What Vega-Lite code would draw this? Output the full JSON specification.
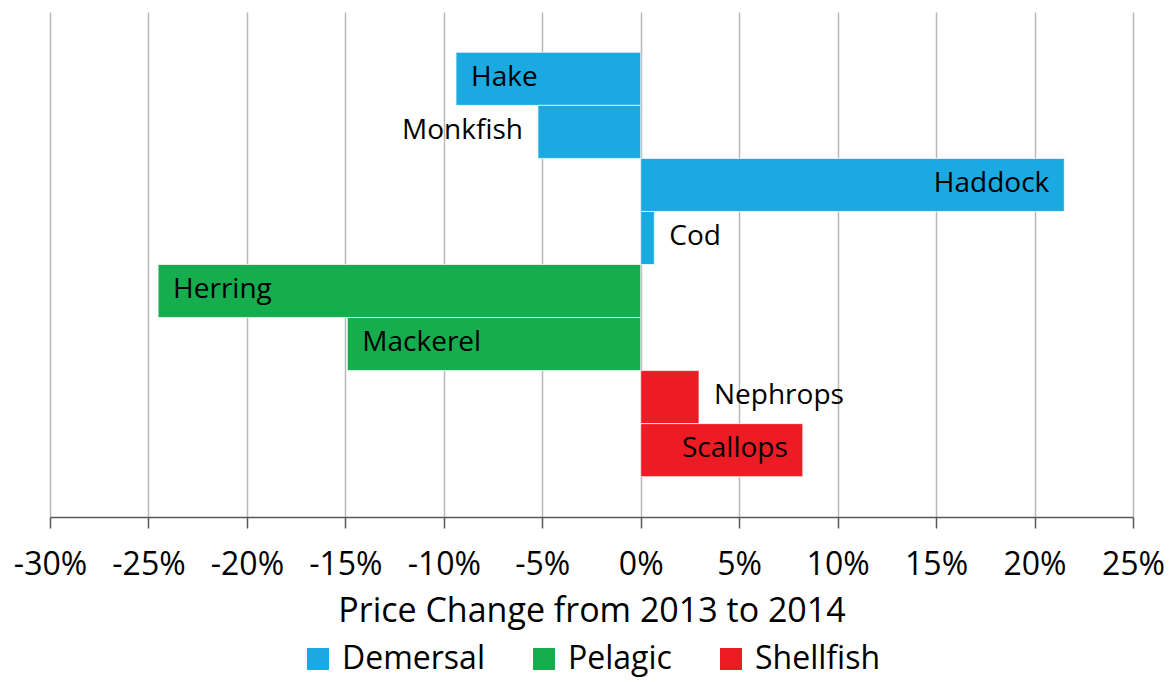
{
  "$schema": "https://vega.github.io/schema/vega-lite/v6.json",
  "width": 1083,
  "height": 505,
  "autosize": "none",
  "padding": {"left": 50, "top": 12, "right": 42, "bottom": 165},
  "background": "white",
  "data": {
    "values": [
      {"species": "Hake", "group": "Demersal", "change": -0.0938},
      {"species": "Monkfish", "group": "Demersal", "change": -0.0522},
      {"species": "Haddock", "group": "Demersal", "change": 0.2151},
      {"species": "Cod", "group": "Demersal", "change": 0.0069},
      {"species": "Herring", "group": "Pelagic", "change": -0.2451},
      {"species": "Mackerel", "group": "Pelagic", "change": -0.149},
      {"species": "Nephrops", "group": "Shellfish", "change": 0.0296},
      {"species": "Scallops", "group": "Shellfish", "change": 0.0823}
    ]
  },
  "encoding": {
    "y": {
      "field": "species",
      "type": "nominal",
      "sort": null,
      "axis": null,
      "scale": {"paddingInner": 0, "paddingOuter": 0.76}
    },
    "x": {
      "field": "change",
      "type": "quantitative",
      "scale": {"domain": [-0.3, 0.25], "nice": false, "zero": false},
      "axis": {
        "values": [-0.3, -0.25, -0.2, -0.15, -0.1, -0.05, 0, 0.05, 0.1, 0.15, 0.2, 0.25],
        "labelExpr": "round(datum.value * 100) + '%'",
        "title": "Price Change from 2013 to 2014",
        "grid": true,
        "gridColor": "#b8b8b8",
        "gridWidth": 1.5,
        "domainColor": "#595959",
        "domainWidth": 1.5,
        "tickColor": "#595959",
        "tickWidth": 1.5,
        "tickSize": 11,
        "labelFont": "Open Sans",
        "labelFontSize": 32,
        "labelColor": "#000000",
        "labelPadding": 21,
        "labelFlush": false,
        "labelOverlap": false,
        "titleFont": "Open Sans",
        "titleFontSize": 34,
        "titleFontWeight": "normal",
        "titleColor": "#000000",
        "titlePadding": 14
      }
    }
  },
  "layer": [
    {
      "mark": {"type": "bar", "stroke": "#ffffff", "strokeWidth": 1, "strokeOpacity": 0.7},
      "encoding": {
        "x2": {"datum": 0},
        "color": {
          "field": "group",
          "type": "nominal",
          "scale": {"domain": ["Demersal", "Pelagic", "Shellfish"], "range": ["#1aa9e0", "#16ad4e", "#ed1c24"]},
          "legend": {
            "title": null,
            "orient": "none",
            "direction": "horizontal",
            "legendX": 252,
            "legendY": 631,
            "symbolType": "square",
            "symbolSize": 484,
            "symbolStrokeWidth": 0,
            "labelFont": "Open Sans",
            "labelFontSize": 32,
            "labelColor": "#000000",
            "labelOffset": 8,
            "labelLimit": 300,
            "columnPadding": 43
          }
        }
      }
    },
    {
      "transform": [{"filter": "datum.change < -0.07 || (datum.change > 0 && datum.change < 0.05)"}],
      "mark": {"type": "text", "align": "left", "baseline": "middle", "dx": 15, "dy": -1, "font": "Open Sans", "fontSize": 28, "color": "#000000"},
      "encoding": {"text": {"field": "species"}}
    },
    {
      "transform": [{"filter": "!(datum.change < -0.07 || (datum.change > 0 && datum.change < 0.05))"}],
      "mark": {"type": "text", "align": "right", "baseline": "middle", "dx": -15, "dy": -1, "font": "Open Sans", "fontSize": 28, "color": "#000000"},
      "encoding": {"text": {"field": "species"}}
    }
  ],
  "config": {"view": {"stroke": null}}
}
